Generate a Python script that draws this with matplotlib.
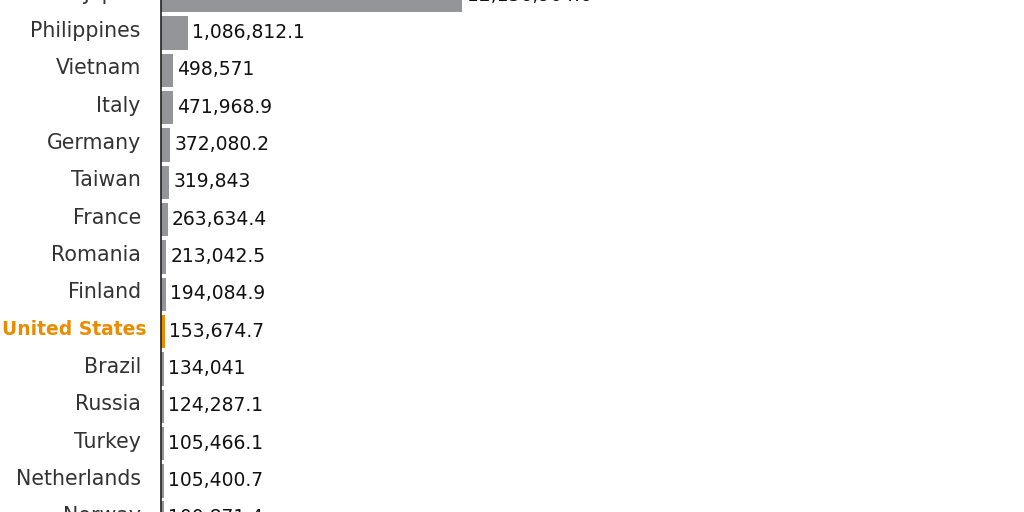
import matplotlib
matplotlib.use("Agg")
import numpy as np
from matplotlib import pyplot as plt


COUNTRIES = ["Japan", "Philippines", "Vietnam", "Italy", "Germany", "Taiwan",
             "France", "Romania", "Finland", "United States", "Brazil",
             "Russia", "Turkey", "Netherlands", "Norway"]
VALUES = [12156904.6, 1086812.1, 498571, 471968.9, 372080.2, 319843,
          263634.4, 213042.5, 194084.9, 153674.7, 134041,
          124287.1, 105466.1, 105400.7, 100871.4]
HIGHLIGHT = "United States"

GRAY = "#939598"
ORANGE = "#ea8c00"

plt.rcParams["font.family"] = ["DejaVu Sans"]

fig = plt.figure(figsize=(10.24, 5.12), dpi=100)
ax = fig.add_axes([161 / 1024, 0, (1024 - 161) / 1024, 1])

y = np.arange(len(COUNTRIES))
colors = [ORANGE if c == HIGHLIGHT else GRAY for c in COUNTRIES]
ax.barh(y, VALUES, height=0.9, color=colors, left=0)

for i, (name, v) in enumerate(zip(COUNTRIES, VALUES)):
    s = format(v, ",.1f") if v % 1 else format(int(v), ",")
    ax.annotate(s, (v, i), xytext=(3, 0.3), textcoords="offset points",
                va="center", ha="left", fontsize=13.5, color="#111111",
                annotation_clip=False)
    if name == HIGHLIGHT:
        ax.annotate(name, (0, i), xytext=(-10.5, 1.5), textcoords="offset points",
                    va="center", ha="right", fontsize=13.5, fontweight="bold",
                    color=ORANGE, annotation_clip=False)
    else:
        ax.annotate(name, (0, i), xytext=(-14.5, 1.5), textcoords="offset points",
                    va="center", ha="right", fontsize=14.8, color="#333333",
                    annotation_clip=False)

ax.set_xticks([])
ax.set_yticks([])

scale = 2.48e-5  # px per unit
row = 37.33
ax.set_xlim(0, (1024 - 161) / scale)
ax.set_ylim(1 + (512 - 33) / row, 1 - 33 / row)

for side in ["top", "right", "bottom"]:
    ax.spines[side].set_visible(False)
ax.spines["left"].set_color("#222222")
ax.spines["left"].set_linewidth(1.2)

fig.savefig("out.png", dpi=100)
